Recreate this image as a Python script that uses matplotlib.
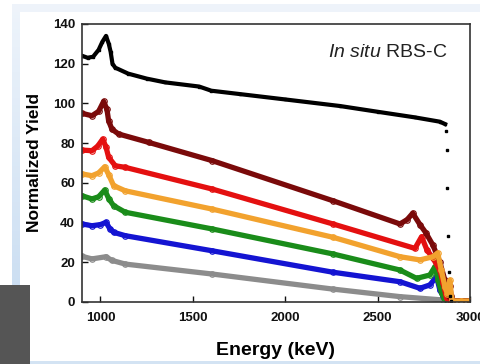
import numpy as np
import matplotlib
matplotlib.use('Agg')
import matplotlib.pyplot as plt
from matplotlib.patches import Rectangle

plt.rcParams['font.family'] = ['Liberation Sans', 'DejaVu Sans']
plt.rcParams['mathtext.fontset'] = 'custom'
plt.rcParams['mathtext.it'] = 'Liberation Sans:italic'
plt.rcParams['mathtext.rm'] = 'Liberation Sans'

# values (energy in keV, normalized yield)
black_e = [900, 930, 960, 990, 1010, 1030, 1045, 1055, 1065, 1080, 1150, 1250, 1350, 1534,
           1600, 1755, 2000, 2296, 2500, 2700, 2837, 2865,
           2870, 2873, 2877, 2881, 2885, 2890, 2896]
black_y = [124, 123, 123.5, 127, 131, 134, 130, 126, 120, 118, 115, 112.5, 110.6, 108.5,
           106.4, 104.7, 102, 98.7, 95.8, 93, 90.8, 89.6,
           86, 76.5, 57.4, 33.4, 15, 3, 0.5]
black_n_line = 22   # points after this are the scattered edge dots

maroon_e = [900, 954, 990, 1017, 1035, 1044, 1062, 1098, 1260, 1604, 2258, 2621,
            2660, 2690, 2729, 2760, 2800, 2837, 2864, 2876, 2884, 2891, 2898, 2905, 2950, 3000]
maroon_y = [95, 93.8, 96, 101, 97, 91.3, 87, 84.6, 80.4, 71.2, 51, 39.3,
            41.5, 44.7, 39, 35, 28.5, 20, 11, 5, 3, 8, 3, 0.5, 0.5, 0.5]

red_e = [900, 954, 985, 1012, 1030, 1044, 1080, 1134, 1604, 2258, 2702, 2738, 2767,
         2800, 2837, 2855, 2873, 2890, 2905, 3000]
red_y = [76.5, 76.2, 78.5, 82, 78, 72.9, 68.6, 67.8, 56.9, 39.3, 27, 32.9, 26.2,
         22, 16, 9.4, 2, 1, 0.5, 0.5]

orange_e = [900, 954, 990, 1023, 1045, 1071, 1134, 1604, 2258, 2621, 2729, 2800, 2825,
            2845, 2864, 2878, 2891, 2902, 2950, 3000]
orange_y = [64.5, 63.6, 65, 68.1, 64, 58.6, 56, 46.8, 32.6, 22.8, 21.2, 22.8, 24.7,
            16, 7.7, 4, 11, 0.5, 0.5, 0.5]

green_e = [900, 954, 990, 1023, 1045, 1071, 1134, 1604, 2258, 2621, 2711, 2783, 2810,
           2828, 2846, 2860, 2875, 2890, 2905, 3000]
green_y = [53.5, 51.9, 53, 56.4, 52, 48.5, 45.2, 36.8, 24.2, 16.1, 11.9, 13.6, 17.8,
           11, 4.4, 2, 1, 1, 0.5, 0.5]

blue_e = [900, 954, 1000, 1030, 1050, 1071, 1134, 1604, 2258, 2621, 2729, 2783, 2819,
          2837, 2855, 2870, 2885, 2900, 3000]
blue_y = [39.3, 38.4, 39, 40.1, 37, 35.1, 33.4, 25.8, 15, 10.2, 6.9, 8.6, 12.8,
          6, 3, 4, 2, 0.5, 0.5]

gray_e = [900, 954, 1030, 1060, 1134, 1604, 2258, 2621, 2855, 2880, 3000]
gray_y = [23, 21.7, 22.8, 21, 19.1, 14.1, 6.5, 2.7, 1, 0.5, 0.5]

fig = plt.figure(figsize=(4.8, 3.64), dpi=100)

# slide-like frame behind the chart (pixel coordinates)
bg = fig.add_axes([0, 0, 1, 1])
grad = np.linspace(0, 1, 100).reshape(-1, 1)
cmap = matplotlib.colors.LinearSegmentedColormap.from_list('fr', ['#eef4fb', '#c3d9f0'])
bg.imshow(grad, cmap=cmap, extent=[12, 20, 364, 4], aspect='auto')
bg.add_patch(Rectangle((12, 4), 468, 8, color='#eef3fa', lw=0))
bg.add_patch(Rectangle((20, 361), 460, 3, color='#d3e3f3', lw=0))
bg.add_patch(Rectangle((20, 12), 460, 349, color='white', lw=0))
bg.add_patch(Rectangle((0, 285), 30, 79, color='#555555', lw=0))
bg.set_xlim(0, 480)
bg.set_ylim(364, 0)
bg.axis('off')

ax = fig.add_axes([82/480, 62/364, 388/480, 278/364])

series = [
    (gray_e, gray_y, '#8c8c8c'),
    (blue_e, blue_y, '#1414d2'),
    (green_e, green_y, '#1a8c1a'),
    (red_e, red_y, '#e41010'),
    (maroon_e, maroon_y, '#7a0a0a'),
    (orange_e, orange_y, '#f2a22e'),
]
for e, y, c in series:
    ax.plot(e, y, '-', color=c, lw=3.8, solid_capstyle='round', solid_joinstyle='round')
    ax.plot(e, y, 'o', color=c, mfc='none', ms=4, mew=0.8)

ax.plot(black_e[:black_n_line], black_y[:black_n_line], '-', color='k', lw=3,
        solid_joinstyle='round')
ax.plot(black_e, black_y, 's', color='k', ms=1.6, ls='none')

ax.set_xlim(900, 3000)
ax.set_ylim(0, 140)
ax.set_xticks([1000, 1500, 2000, 2500, 3000])
ax.set_yticks(range(0, 141, 20))
ax.tick_params(direction='in', length=4, width=1, top=False, right=False,
               labelsize=9.5, colors='#111111')
ax.tick_params(axis='x', pad=7)
ax.tick_params(axis='y', pad=5)
for lab in ax.get_xticklabels() + ax.get_yticklabels():
    lab.set_fontweight('bold')
for s in ax.spines.values():
    s.set_linewidth(1.2)
    s.set_color('#333333')

ax.set_xlabel('Energy (keV)', fontsize=14, fontweight='bold', labelpad=13)
ax.set_ylabel('Normalized Yield', fontsize=12.5, fontweight='bold', labelpad=8)
ax.text(0.941, 0.899, r'$\mathit{In\ situ}$ RBS-C', transform=ax.transAxes,
        ha='right', va='center', fontsize=14, color='#222222')

fig.savefig('out.png', dpi=100)
